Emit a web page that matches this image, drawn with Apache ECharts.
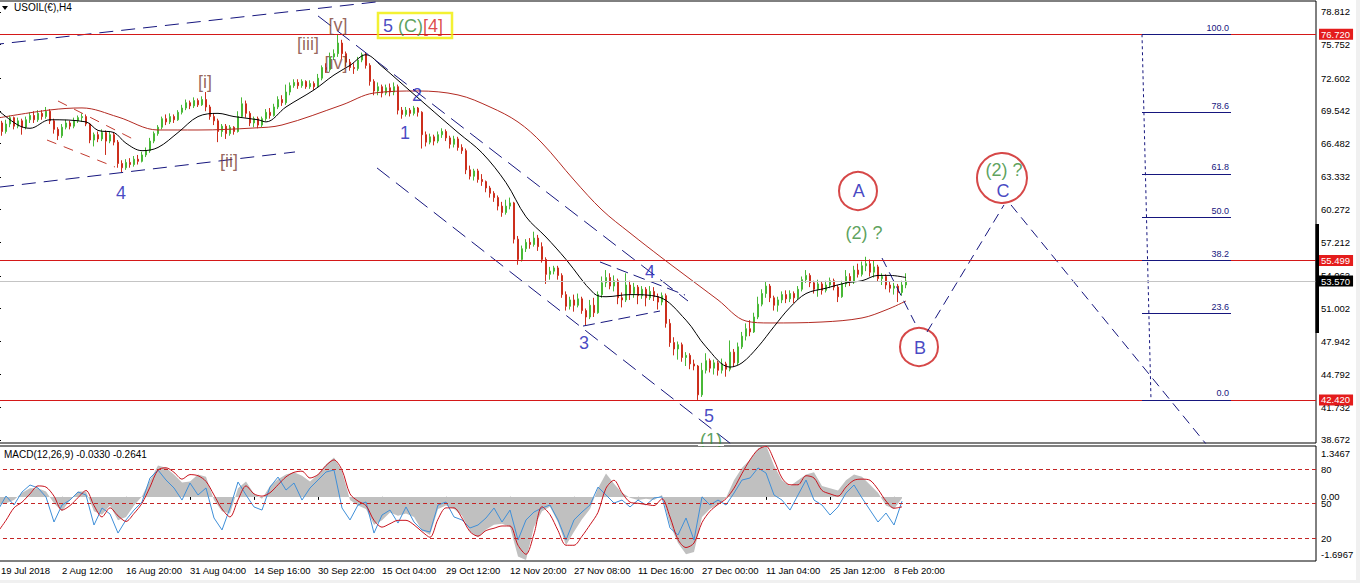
<!DOCTYPE html>
<html>
<head>
<meta charset="utf-8">
<script src="https://cdn.jsdelivr.net/npm/echarts@6/dist/echarts.min.js"></script>
<style>
html,body{margin:0;padding:0;background:#fff;overflow:hidden}
#chart{width:1360px;height:583px}
</style>
</head>
<body>
<div id="chart"></div>
<script>
// USOIL(€) H4 bars: [open, close, low, high]
const ohlc = [
[67.9,68.4,67.5,68.8],[68.4,67.6,67.2,68.6],[67.6,68.3,67.4,68.7],[68.3,68.9,68.0,69.1],[68.9,68.1,67.8,69.0],[68.1,68.6,67.9,68.9],[68.6,68.0,67.3,68.8],[68.0,68.7,67.8,69.0],[68.7,69.1,68.4,69.4],[69.1,68.7,68.4,69.5],
[68.7,69.3,68.5,69.6],[69.3,69.0,68.7,69.6],[69.0,69.5,68.8,69.9],[69.5,68.6,68.3,69.7],[68.6,67.8,67.4,68.8],[67.8,67.2,66.8,68.0],[67.2,68.0,67.0,68.3],[68.0,68.4,67.8,68.7],[68.4,68.1,67.8,68.6],[68.1,68.6,67.9,68.9],
[68.6,68.9,68.4,69.1],[68.9,69.0,68.5,69.3],[69.0,68.3,68.1,69.2],[68.3,66.8,66.5,68.4],[66.8,67.3,66.2,67.5],[67.3,66.9,66.6,67.6],[66.9,67.5,66.7,67.8],[67.5,66.7,65.4,67.7],[66.7,67.3,66.5,67.6],[67.3,66.6,66.3,67.5],
[66.6,64.6,64.2,66.8],[64.6,64.2,63.8,64.9],[64.2,64.7,64.0,65.0],[64.7,64.5,64.2,65.1],[64.5,65.0,64.3,65.3],[65.0,64.8,64.5,65.4],[64.8,65.4,64.7,65.7],[65.4,65.8,65.2,66.1],[65.8,66.7,65.6,67.0],[66.7,67.4,66.5,67.6],
[67.4,68.0,67.2,68.2],[68.0,68.8,67.8,69.0],[68.8,68.5,68.2,69.2],[68.5,69.0,68.3,69.3],[69.0,68.7,68.4,69.2],[68.7,69.4,68.6,69.6],[69.4,69.8,69.2,70.1],[69.8,70.3,69.6,70.6],[70.3,70.0,69.7,70.5],[70.0,70.5,69.8,70.8],
[70.5,70.1,69.9,70.7],[70.1,70.6,70.0,70.9],[70.6,69.9,69.5,71.3],[69.9,69.0,68.7,70.1],[69.0,68.6,68.2,69.3],[68.6,67.6,66.6,68.8],[67.6,68.1,67.1,68.3],[68.1,67.4,66.9,68.3],[67.4,68.0,67.2,68.2],[68.0,67.6,67.3,68.1],
[67.6,69.0,67.5,69.5],[69.0,70.2,68.9,70.8],[70.2,69.3,68.9,70.5],[69.3,68.4,68.1,69.5],[68.4,68.8,68.0,69.0],[68.8,68.2,67.9,69.0],[68.2,68.8,68.0,69.0],[68.8,69.4,68.6,69.7],[69.4,69.1,68.8,69.8],[69.1,69.9,69.0,70.2],
[69.9,70.6,69.7,70.9],[70.6,70.3,70.0,71.0],[70.3,71.3,70.1,72.0],[71.3,71.9,71.0,72.2],[71.9,72.2,71.7,72.5],[72.2,71.9,71.6,72.5],[71.9,72.3,71.7,72.5],[72.3,71.8,71.6,72.4],[71.8,72.1,71.6,72.4],[72.1,71.8,71.5,72.3],
[71.8,72.6,71.7,73.0],[72.6,73.6,72.4,73.8],[73.6,73.4,73.1,74.0],[73.4,74.6,73.2,75.0],[74.6,74.9,74.3,75.3],[74.9,75.9,74.6,76.72],[75.9,74.9,74.4,76.2],[74.9,74.1,73.7,75.1],[74.1,73.6,73.3,74.4],[73.6,73.5,73.0,74.0],
[73.5,74.3,73.3,74.6],[74.3,74.8,74.1,75.0],[74.8,73.8,73.5,75.0],[73.8,72.3,71.9,74.0],[72.3,71.4,71.0,72.5],[71.4,71.8,71.0,72.2],[71.8,71.2,70.8,72.0],[71.2,71.7,71.0,72.0],[71.7,71.3,70.9,72.1],[71.3,71.8,71.0,72.2],
[71.8,69.6,69.2,72.0],[69.6,69.2,68.8,69.9],[69.2,69.6,69.0,69.9],[69.6,69.3,69.0,69.8],[69.3,69.8,69.1,70.0],[69.8,69.4,69.0,69.9],[69.4,67.3,66.0,69.5],[67.3,66.6,66.2,67.6],[66.6,67.1,66.4,67.4],[67.1,66.7,66.3,67.3],
[66.7,67.3,66.5,67.6],[67.3,67.6,67.0,67.9],[67.6,67.0,66.7,67.8],[67.0,66.4,66.0,67.2],[66.4,66.9,66.1,67.2],[66.9,66.1,65.8,67.1],[66.1,65.8,65.5,66.4],[65.8,64.0,63.6,66.0],[64.0,63.4,63.1,64.4],[63.4,63.9,63.0,64.1],
[63.9,63.1,62.8,64.1],[63.1,62.9,62.5,63.6],[62.9,62.3,61.9,63.0],[62.3,61.8,61.4,62.5],[61.8,61.4,61.0,62.0],[61.4,60.6,60.2,61.6],[60.6,60.0,59.6,61.0],[60.0,60.6,59.8,61.2],[60.6,60.9,60.3,61.4],[60.9,57.5,57.1,61.0],
[57.5,55.6,55.1,57.8],[55.6,56.6,55.4,56.9],[56.6,57.2,56.3,57.5],[57.2,57.0,56.6,57.6],[57.0,57.6,56.8,58.2],[57.6,56.8,56.4,57.9],[56.8,55.6,55.3,57.2],[55.6,54.2,53.3,55.8],[54.2,54.5,53.7,54.9],[54.5,54.8,54.2,55.0],
[54.8,54.1,53.7,55.0],[54.1,52.3,52.0,54.3],[52.3,51.2,50.8,52.6],[51.2,51.8,50.9,52.1],[51.8,51.3,50.7,52.3],[51.3,51.9,51.1,52.4],[51.9,50.8,50.5,52.1],[50.8,50.2,49.4,51.0],[50.2,51.3,50.0,51.8],[51.3,50.6,50.2,52.0],
[50.6,52.3,50.5,52.6],[52.3,53.4,52.0,54.0],[53.4,53.9,53.0,54.6],[53.9,53.1,52.8,54.3],[53.1,53.6,52.6,54.1],[53.6,52.0,51.4,53.8],[52.0,51.8,51.1,52.5],[51.8,53.2,51.6,54.3],[53.2,52.4,51.8,53.6],[52.4,53.0,52.0,53.4],
[53.0,52.2,51.4,53.2],[52.2,52.8,51.9,53.1],[52.8,52.0,51.2,53.0],[52.0,52.6,51.8,53.1],[52.6,52.1,51.7,53.0],[52.1,51.6,50.9,52.4],[51.6,52.2,51.3,52.5],[52.2,49.6,49.2,52.4],[49.6,47.8,47.4,50.0],[47.8,47.2,46.6,48.3],
[47.2,47.6,46.2,47.9],[47.6,46.4,46.0,47.8],[46.4,46.6,45.6,46.9],[46.6,45.8,45.3,46.8],[45.8,45.6,45.2,46.2],[45.6,42.9,42.42,45.7],[42.9,45.2,42.7,45.9],[45.2,46.1,44.9,46.8],[46.1,45.4,45.0,46.3],[45.4,45.9,44.8,46.2],
[45.9,45.2,44.7,46.1],[45.2,45.8,44.9,46.3],[45.8,45.3,44.6,46.0],[45.3,46.9,45.1,48.0],[46.9,45.9,45.5,47.2],[45.9,47.4,45.7,47.8],[47.4,48.4,47.2,48.8],[48.4,49.1,48.0,49.6],[49.1,48.8,48.4,49.9],[48.8,50.2,48.7,50.6],
[50.2,51.4,50.0,52.1],[51.4,52.4,51.2,52.8],[52.4,53.1,52.0,53.5],[53.1,52.0,51.6,53.3],[52.0,51.3,50.8,52.2],[51.3,51.8,50.7,52.1],[51.8,52.3,51.5,52.6],[52.3,51.9,51.5,52.7],[51.9,52.4,51.6,52.7],[52.4,52.0,51.5,52.6],
[52.0,52.8,51.8,53.1],[52.8,53.7,52.6,54.0],[53.7,54.1,53.4,54.6],[54.1,53.4,53.0,54.3],[53.4,52.8,52.4,53.6],[52.8,53.3,52.1,53.7],[53.3,52.7,52.3,53.5],[52.7,53.2,52.5,53.6],[53.2,53.6,52.9,53.9],[53.6,53.0,52.7,53.8],
[53.0,52.1,51.6,53.2],[52.1,53.3,52.0,53.6],[53.3,54.0,53.0,54.6],[54.0,53.5,53.1,54.3],[53.5,54.6,53.3,55.0],[54.6,54.2,53.9,55.2],[54.2,55.0,54.0,55.4],[55.0,55.2,54.5,55.85],[55.2,54.4,54.0,55.6],[54.4,54.9,53.9,55.5],
[54.9,53.8,53.5,55.1],[53.8,54.0,53.2,54.3],[54.0,53.2,52.8,54.2],[53.2,52.9,52.5,53.5],[52.9,53.1,52.3,53.4],[53.1,52.5,51.6,53.3],[52.5,53.2,52.2,53.6],[53.2,53.57,52.9,54.3]
];

// moving averages, [bar, price]
const maFast = [[0,69.6],[5,68.2],[8,67.9],[13,68.7],[22,68.5],[25,67.7],[29,67.5],[32,66.5],[36,65.8],[40,66.1],[45,67.5],[50,69.0],[55,69.3],[59,69.0],[65,68.7],[67,68.5],[72,69.9],[79,71.5],[84,72.9],[88,73.8],[92,74.8],[96,73.7],[100,72.4],[107,70.1],[115,67.5],[121,65.6],[127,62.8],[132,59.6],[137,57.7],[142,55.6],[149,52.4],[152,52.1],[158,52.3],[165,52.1],[172,49.9],[177,47.4],[183,45.5],[186,45.9],[190,47.4],[194,49.3],[198,51.1],[202,52.4],[207,52.9],[212,53.4],[216,53.6],[220,54.1],[223,54.1],[227,53.9]];
const maSlow = [[0,68.87],[13,69.62],[21,69.81],[30,68.96],[40,67.74],[50,67.74],[64,67.93],[71,68.21],[86,70.09],[94,71.21],[105,71.40],[115,71.03],[123,69.90],[130,68.49],[136,66.52],[144,63.05],[151,60.24],[158,58.08],[166,55.74],[171,54.33],[180,51.80],[187,49.82],[193,49.64],[206,49.73],[216,50.11],[222,50.86],[227,51.70]];

// MACD window, one value every second bar
const macdHist = [
-0.20,-0.17,-0.08,0.11,0.23,0.23,0.14,-0.17,-0.38,-0.08,
0.14,0.14,-0.38,-0.47,-0.23,-0.62,-0.53,-0.23,0.02,0.44,
0.83,0.77,0.59,0.38,0.41,0.59,0.53,-0.08,-0.38,-0.44,
0.23,0.41,0.08,-0.05,0.29,0.47,0.59,0.65,0.56,0.41,
0.59,0.86,1.04,0.68,-0.08,-0.23,-0.32,-0.74,-0.62,-0.41,
-0.50,-0.44,-0.53,-0.89,-1.01,-0.32,-0.23,-0.32,-0.50,-0.92,
-1.07,-0.86,-0.74,-0.71,-0.80,-1.58,-1.67,-0.80,-0.38,-0.26,
-0.68,-1.28,-0.92,-0.59,-0.32,0.23,0.62,0.35,0.11,-0.02,
-0.08,-0.05,-0.08,0.05,-0.74,-1.22,-1.52,-1.46,-0.53,-0.32,
-0.20,-0.02,0.44,0.77,0.98,1.28,1.37,0.83,0.44,0.29,
0.44,0.59,0.65,0.29,0.23,0.17,0.44,0.59,0.53,0.32,
0.11,-0.23,-0.32,-0.0330];
const macdSignal = [
-0.92,-0.62,-0.29,-0.14,0.08,0.29,0.26,0.02,-0.35,-0.23,
-0.02,0.17,-0.23,-0.53,-0.29,-0.50,-0.65,-0.44,-0.17,0.26,
0.71,0.77,0.65,0.47,0.59,0.56,0.41,0.05,-0.32,-0.53,
-0.08,0.29,0.08,0.02,0.11,0.32,0.53,0.65,0.68,0.50,
0.59,0.83,0.98,0.71,0.08,-0.11,-0.23,-0.62,-0.80,-0.71,
-0.62,-0.62,-0.74,-0.92,-1.07,-0.59,-0.29,-0.29,-0.56,-0.92,
-1.04,-0.89,-0.83,-0.77,-0.77,-1.28,-1.52,-0.98,-0.26,-0.47,
-0.89,-1.28,-1.28,-1.04,-0.74,-0.41,0.23,0.44,0.11,-0.14,
-0.17,-0.20,-0.23,-0.05,-0.53,-1.13,-1.34,-1.22,-0.68,-0.38,
-0.20,-0.05,0.23,0.62,0.98,1.25,1.34,0.98,0.50,0.32,
0.32,0.56,0.50,0.17,0.08,0.02,0.26,0.44,0.47,0.44,
0.20,-0.11,-0.30,-0.2641];
const oscLine = [
44.3,56.5,48.7,60.0,66.1,63.5,55.7,33.9,48.7,53.0,
60.0,57.4,31.3,46.1,40.9,24.3,35.7,44.3,51.3,72.2,
79.1,70.4,63.5,53.0,67.8,57.4,63.5,37.4,27.0,46.1,
68.7,57.4,47.0,44.3,64.3,73.0,61.7,67.8,53.0,63.5,
70.4,77.4,79.1,46.1,35.7,48.7,51.3,24.3,40.0,44.3,
33.0,47.0,33.9,27.0,25.2,48.7,51.3,38.3,35.7,28.7,
31.3,37.4,46.1,33.9,44.3,18.3,35.7,42.6,46.1,48.7,
35.7,18.3,35.7,42.6,48.7,64.3,57.4,50.4,53.0,47.0,
53.0,48.7,54.8,55.7,28.7,22.6,37.4,18.3,55.7,48.7,
53.0,48.7,59.1,70.4,72.2,80.9,76.5,57.4,53.0,44.3,
57.4,70.4,53.0,48.7,40.0,47.0,59.1,66.1,54.8,44.3,
33.9,41.7,31.3,52.0];
const oscLevels = [80, 50, 20];

// axis texts
const priceTicks = [78.812,75.752,72.602,69.542,66.482,63.332,60.272,57.212,54.062,51.002,47.942,44.792,41.732,38.672];
const macdTicks = [1.3467, 0, -1.6967];
const timeLabels = ['19 Jul 2018','2 Aug 12:00','16 Aug 20:00','31 Aug 04:00','14 Sep 16:00','30 Sep 22:00','15 Oct 04:00','29 Oct 12:00','12 Nov 20:00','27 Nov 08:00','11 Dec 16:00','27 Dec 00:00','11 Jan 04:00','25 Jan 12:00','8 Feb 20:00'];

// horizontal price levels
const redLevels = [76.72, 55.499, 42.42];
const fibLow = 42.42, fibHigh = 76.72;
const fibRatios = [100, 78.6, 61.8, 50, 38.2, 23.6, 0];

const SLOTS = 330;          // bars shown incl. empty space on the right
const BARS_PER_LABEL = 16;
const MACD_STEP = 2;

const FONT = 'Liberation Sans';
const NAVY = '#1818b4', GREEN = '#348a34', BROWN = '#7e3e33', RED = '#d41c1c', LINE_NAVY = '#16167e';
const UP = '#48b836', DOWN = '#cc2e1c';

// wave counts and notes, [bar, price]
const waveLabels = [
  {text:'4', at:[30.75,61.83], color:NAVY},
  {text:'[i]', at:[51.75,72.25], color:BROWN},
  {text:'[ii]', at:[57.75,64.83], color:BROWN},
  {text:'[iii]', at:[77.5,75.81], color:BROWN},
  {text:'[iv]', at:[84.5,74.03], color:BROWN},
  {text:'[v]', at:[85,77.55], color:BROWN},
  {text:'1', at:[101.75,67.46], color:NAVY},
  {text:'2', at:[104.75,71.03], color:NAVY},
  {text:'3', at:[146.5,47.76], color:NAVY},
  {text:'4', at:[163,54.42], color:NAVY},
  {text:'5', at:[177.75,40.91], color:NAVY},
  {text:'(1)', at:[178.25,38.70], color:GREEN},
  {text:'A', at:[215.2,62.0], color:NAVY},
  {text:'(2) ?', at:[216.5,58.08], color:GREEN},
  {text:'B', at:[230.5,47.3], color:NAVY},
  {text:'(2) ?', at:[251.5,63.99], color:GREEN},
  {text:'C', at:[251.25,62.02], color:NAVY}
];
const circles = [
  {at:[215,62.02], big:false},
  {at:[230.25,47.39], big:false},
  {at:[251,63.24], big:true}
];
const trendLines = [
  {from:[-2,75.71], to:[95.5,79.79], color:LINE_NAVY, dash:[14,8]},
  {from:[0.5,62.39], to:[74.25,65.68], color:LINE_NAVY, dash:[14,8]},
  {from:[15,70.46], to:[34.25,66.80], color:'#c23a2e', dash:[10,8]},
  {from:[12.25,66.80], to:[29.25,64.27], color:'#c23a2e', dash:[10,8]},
  {from:[80,78.44], to:[172.5,51.70], color:LINE_NAVY, dash:[16,8]},
  {from:[94.75,64.18], to:[184.25,38.0], color:LINE_NAVY, dash:[16,8]},
  {from:[150.5,55.36], to:[171.75,52.26], color:LINE_NAVY, dash:[12,6]},
  {from:[146.25,49.35], to:[165.5,50.76], color:LINE_NAVY, dash:[12,6]},
  {from:[221,55.73], to:[229.25,49.64], color:LINE_NAVY, dash:[10,6]},
  {from:[232.25,48.79], to:[251.5,60.71], color:LINE_NAVY, dash:[10,6]},
  {from:[253.25,60.71], to:[304.25,37.26], color:LINE_NAVY, dash:[10,6]}
];
const fibSpan = {start:286, end:308.25, startLow:288.25};

const fibPrice = r => fibLow + (fibHigh - fibLow) * r / 100;
const lastClose = ohlc[ohlc.length - 1][1];
const slots = Array.from({length: SLOTS}, (_, i) => String(i));
const labelBars = timeLabels.map((_, k) => k * BARS_PER_LABEL);
const stepped = arr => arr.map((v, k) => [k * MACD_STEP, v]);
const macdTitle = 'MACD(12,26,9) ' + macdHist[macdHist.length - 1].toFixed(4) + ' ' + macdSignal[macdSignal.length - 1].toFixed(4);

const chart = echarts.init(document.getElementById('chart'), null, {renderer: 'svg'});

const plain = {silent: true, animation: false, emphasis: {disabled: true}};

const series = [];

// candles with horizontal levels and their price tags
series.push(Object.assign({
  type: 'candlestick', xAxisIndex: 0, yAxisIndex: 0, data: ohlc, barWidth: 2,
  itemStyle: {color: UP, color0: DOWN, borderColor: UP, borderColor0: DOWN, borderWidth: 1},
  markLine: {
    silent: true, animation: false, symbol: ['none', 'none'], precision: 3,
    label: {show: true, position: 'end', distance: 3, formatter: p => p.value.toFixed(3), color: '#fff', fontSize: 9.5, fontFamily: FONT, padding: [1, 3, 0, 2]},
    data: redLevels.map(v => ({yAxis: v, lineStyle: {color: '#d41818', width: 1, type: 'solid'}, label: {backgroundColor: '#e41c1c'}}))
      .concat([{yAxis: lastClose, lineStyle: {color: '#c4c4c4', width: 1, type: 'solid'}, label: {backgroundColor: '#000'}}])
  }
}, plain));

// moving averages
series.push(Object.assign({type: 'line', xAxisIndex: 2, yAxisIndex: 0, data: maSlow, smooth: 0.35, showSymbol: false, lineStyle: {color: '#b22a22', width: 1}}, plain));
series.push(Object.assign({type: 'line', xAxisIndex: 2, yAxisIndex: 0, data: maFast, smooth: 0.35, showSymbol: false, lineStyle: {color: '#000', width: 1}}, plain));

// channel and projection lines
trendLines.forEach(t => {
  series.push(Object.assign({type: 'line', xAxisIndex: 2, yAxisIndex: 0, data: [t.from, t.to], showSymbol: false, clip: true,
    lineStyle: {color: t.color, width: 1, type: t.dash}}, plain));
});

// Fibonacci retracement 42.42 -> 76.72
series.push(Object.assign({
  type: 'line', xAxisIndex: 2, yAxisIndex: 0, showSymbol: false,
  data: [[fibSpan.start, fibHigh], [fibSpan.startLow, fibLow]],
  lineStyle: {color: LINE_NAVY, width: 1, type: [3, 3]},
  markLine: {
    silent: true, animation: false, symbol: ['none', 'none'], precision: 3,
    lineStyle: {color: LINE_NAVY, width: 1, type: 'solid'},
    label: {show: true, position: 'insideEndTop', distance: 2, formatter: '{b}', color: LINE_NAVY, fontSize: 9, fontFamily: FONT},
    data: fibRatios.map(r => [{coord: [fibSpan.start, fibPrice(r)], name: r.toFixed(1)}, {coord: [fibSpan.end, fibPrice(r)]}])
  }
}, plain));

// circles round A, B, C
series.push(Object.assign({
  type: 'scatter', xAxisIndex: 2, yAxisIndex: 0, symbol: 'circle',
  data: circles.map(c => ({value: c.at, symbolSize: c.big ? 50 : 38})),
  itemStyle: {color: 'rgba(255,255,255,0)', borderColor: '#cc1a1a', borderWidth: 2}
}, plain));

// wave labels
series.push(Object.assign({
  type: 'scatter', xAxisIndex: 2, yAxisIndex: 0, symbolSize: 1, z: 5,
  itemStyle: {color: 'rgba(0,0,0,0)'},
  label: {show: true, position: 'inside', fontSize: 18, fontFamily: FONT},
  data: waveLabels.map(w => ({value: w.at, label: {formatter: w.text, color: w.color}}))
    .concat([{value: [104.25, 77.54], label: {
      formatter: '{n|5} {g|(C)}{r|[4]}', borderColor: '#f0ee00', borderWidth: 2.5, padding: [4, 9, 3, 5],
      rich: {n: {color: NAVY, fontSize: 18, fontFamily: FONT}, g: {color: GREEN, fontSize: 18, fontFamily: FONT}, r: {color: RED, fontSize: 18, fontFamily: FONT}}
    }}])
}, plain));

// MACD window
series.push(Object.assign({type: 'line', xAxisIndex: 1, yAxisIndex: 1, data: stepped(macdHist), showSymbol: false, z: 1,
  lineStyle: {width: 0, color: '#c0c0c0'}, areaStyle: {color: '#c0c0c0', opacity: 1, origin: 0}}, plain));
series.push(Object.assign({type: 'line', xAxisIndex: 1, yAxisIndex: 2, data: stepped(oscLine), showSymbol: false, z: 3,
  lineStyle: {color: '#3f8fd8', width: 1},
  markLine: {silent: true, animation: false, symbol: ['none', 'none'], label: {show: false},
    lineStyle: {color: '#c42626', width: 1, type: [4, 3]}, data: oscLevels.map(v => ({yAxis: v}))}}, plain));
series.push(Object.assign({type: 'line', xAxisIndex: 1, yAxisIndex: 1, data: stepped(macdSignal), showSymbol: false, smooth: 0.3, z: 4,
  lineStyle: {color: '#c8141e', width: 1}}, plain));

const axisText = {color: '#000', fontSize: 9.5, fontFamily: FONT};

const option = {
  animation: false,
  backgroundColor: '#fff',
  textStyle: {fontFamily: FONT},
  grid: [
    {left: -4, top: 1, width: 1320, height: 442, outerBoundsMode: 'none', containLabel: false, show: true, borderColor: '#000', borderWidth: 1, backgroundColor: 'transparent'},
    {left: -4, top: 446, width: 1320, height: 115, outerBoundsMode: 'none', containLabel: false, show: true, borderColor: '#000', borderWidth: 1, backgroundColor: '#fff'}
  ],
  xAxis: [
    {type: 'category', gridIndex: 0, data: slots, show: false},
    {type: 'value', gridIndex: 1, min: -0.5, max: SLOTS - 0.5, position: 'bottom',
      splitLine: {show: false}, axisLine: {show: false},
      axisTick: {show: true, length: 3, customValues: labelBars, lineStyle: {color: '#000'}},
      axisLabel: Object.assign({customValues: labelBars, align: 'left', margin: 4,
        formatter: v => v === 0 ? '{first|' + timeLabels[0] + '}' : timeLabels[Math.round(v / BARS_PER_LABEL)],
        rich: {first: Object.assign({padding: [0, 0, 0, 3]}, {color: '#000', fontSize: 9.5, fontFamily: FONT})}}, axisText)},
    {type: 'value', gridIndex: 0, min: -0.5, max: SLOTS - 0.5, show: false}
  ],
  yAxis: [
    {type: 'value', gridIndex: 0, position: 'right', min: 38.38, max: 79.84, splitLine: {show: false},
      axisLine: {show: true, lineStyle: {color: '#000', width: 2}},
      axisTick: {show: true, length: 3, customValues: priceTicks, lineStyle: {color: '#000'}},
      axisLabel: Object.assign({customValues: priceTicks, formatter: v => v.toFixed(3), margin: 5}, axisText)},
    {type: 'value', gridIndex: 1, position: 'right', min: macdTicks[2], max: macdTicks[0], splitLine: {show: false},
      axisLine: {show: true, lineStyle: {color: '#000', width: 2}}, axisTick: {show: false},
      axisLabel: Object.assign({customValues: macdTicks, margin: 5,
        formatter: v => v > 0 ? '{t|' + v.toFixed(4) + '}' : (v < 0 ? '{b|' + v.toFixed(4) + '}' : v.toFixed(2)),
        rich: {t: Object.assign({padding: [14, 0, 0, 0]}, axisText), b: Object.assign({padding: [0, 0, 14, 0]}, axisText)}}, axisText)},
    {type: 'value', gridIndex: 1, position: 'right', min: 0, max: 100, splitLine: {show: false},
      axisLine: {show: false}, axisTick: {show: false},
      axisLabel: Object.assign({customValues: oscLevels, margin: 5}, axisText)}
  ],
  series: series,
  graphic: [
    {type: 'polygon', shape: {points: [[2, 6], [8, 6], [5, 10]]}, style: {fill: '#000'}, z: 50},
    {type: 'text', left: 14, top: 2, style: {text: 'USOIL(€),H4', font: '10px "Liberation Sans"', fill: '#000'}, z: 50},
    {type: 'text', left: 4, top: 449, style: {text: macdTitle, font: '10px "Liberation Sans"', fill: '#000'}, z: 50},
    // the lower half of the wave (1) note stays behind the MACD window frame
    {type: 'rect', shape: {x: 698, y: 444, width: 26, height: 2}, style: {fill: '#fff'}, z: 100},
    {type: 'rect', shape: {x: 698, y: 447, width: 26, height: 8}, style: {fill: '#fff'}, z: 100},
    {type: 'rect', shape: {x: 1315.5, y: 224, width: 3.5, height: 109}, style: {fill: '#000'}, z: 50},
    {type: 'rect', shape: {x: 1356, y: 0, width: 4, height: 583}, style: {fill: '#f0f0f0'}, z: 50},
    {type: 'rect', shape: {x: 0, y: 580, width: 1360, height: 3}, style: {fill: '#f0f0f0'}, z: 50}
  ]
};

chart.setOption(option);
</script>
</body>
</html>
